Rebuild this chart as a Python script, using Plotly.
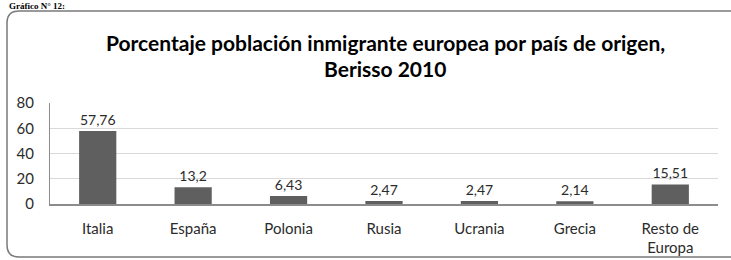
import plotly.graph_objects as go

categories = ["Italia", "España", "Polonia", "Rusia", "Ucrania", "Grecia", "Resto de<br>Europa"]
values = [57.76, 13.2, 6.43, 2.47, 2.47, 2.14, 15.51]
value_labels = ["57,76", "13,2", "6,43", "2,47", "2,47", "2,14", "15,51"]
y_ticks = [0, 20, 40, 60, 80]

W, H = 731, 260
L, R, T, B = 50, 13, 103, 56
pw, ph = W - L - R, H - T - B

def px2paper(x, y):
    return (x - L) / pw, (H - B - y) / ph

fig = go.Figure()
fig.add_trace(go.Bar(
    x=categories, y=values, text=value_labels, textposition="outside",
    marker=dict(color="#5f5f5f", line=dict(width=0)),
    textfont=dict(family="Lato", size=14, color="#2b2b2b"),
    cliponaxis=False, width=0.39,
))

# rounded border box (right side runs past the image edge)
x0, y0 = px2paper(7, 11)
x1, y1 = px2paper(745, 257)
rx, ry = 12 / pw, 12 / ph
path = (f"M {x0+rx},{y0} L {x1-rx},{y0} Q {x1},{y0} {x1},{y0-ry} "
        f"L {x1},{y1+ry} Q {x1},{y1} {x1-rx},{y1} L {x0+rx},{y1} "
        f"Q {x0},{y1} {x0},{y1+ry} L {x0},{y0-ry} Q {x0},{y0} {x0+rx},{y0} Z")
fig.add_shape(type="path", path=path, xref="paper", yref="paper",
              line=dict(color="#7a7a7a", width=1.5), layer="below")

tx, ty1 = px2paper(385, 43)
_, ty2 = px2paper(385, 68)
fig.add_annotation(text="<b>Porcentaje población inmigrante europea por país de origen,</b>",
                   x=tx, y=ty1, xref="paper", yref="paper", showarrow=False,
                   xanchor="center", yanchor="middle", borderpad=0,
                   font=dict(family="Lato", size=21, color="#000000"))
fig.add_annotation(text="<b>Berisso 2010</b>",
                   x=tx, y=ty2, xref="paper", yref="paper", showarrow=False,
                   xanchor="center", yanchor="middle", borderpad=0,
                   font=dict(family="Lato", size=21, color="#000000"))
gx, gy = px2paper(8, 0)
fig.add_annotation(text="<b>Gráfico N° 12:</b>", x=gx, y=gy, xref="paper", yref="paper",
                   xanchor="left", yanchor="top", showarrow=False, borderpad=0,
                   font=dict(family="Liberation Serif", size=9, color="#000000"))

fig.update_layout(
    width=W, height=H, margin=dict(l=L, r=R, t=T, b=B),
    paper_bgcolor="white", plot_bgcolor="white", showlegend=False,
    font=dict(family="Lato", size=15, color="#2b2b2b"),
    xaxis=dict(showline=True, linecolor="#8c8c8c", linewidth=1.5, ticks="",
               automargin=False, ticklabelstandoff=10,
               tickfont=dict(size=15, color="#2b2b2b")),
    yaxis=dict(range=[0, 80], tickvals=y_ticks, showgrid=True, gridcolor="#d9d9d9",
               gridwidth=1.3, showline=True, linecolor="#8c8c8c", linewidth=1.2,
               zeroline=False, ticks="", automargin=False, ticklabelstandoff=12,
               tickfont=dict(size=15, color="#2b2b2b")),
)
fig.write_html("out.html", config={"displayModeBar": False},
               post_script="document.body.style.margin='0';")
